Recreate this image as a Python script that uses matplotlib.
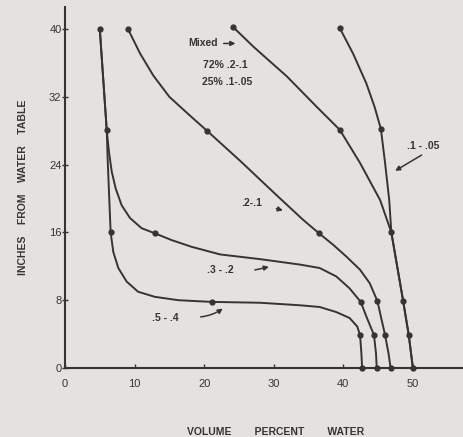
#!/usr/bin/python

'''
	Moisture profiles above the water table for several sand grades.
'''

import matplotlib
matplotlib.use('Agg')
import matplotlib.pyplot as plt

# traced curve paths (volume percent water, inches from water table)
x54 = [5.0, 6.0, 6.13, 6.32, 6.56, 6.94, 7.66, 8.86, 10.5, 12.9, 16.3, 21.1,
	28.0, 33.8, 36.6, 39.0, 40.9, 42.0, 42.4, 42.6, 42.7]
y54 = [40, 28.1, 24.7, 20.8, 16.0, 13.7, 11.8, 10.2, 9.0, 8.4, 8.0, 7.8,
	7.7, 7.4, 7.2, 6.6, 5.9, 4.9, 3.9, 1.7, 0]
x32 = [5.0, 5.99, 6.32, 6.71, 7.28, 8.14, 9.34, 11.0, 12.9, 15.3, 18.2, 22.3,
	28.0, 33.8, 36.6, 39.0, 40.9, 42.5, 43.3, 44.4, 44.7, 44.8]
y32 = [40, 28.1, 25.5, 23.2, 21.2, 19.2, 17.7, 16.5, 15.9, 15.1, 14.3, 13.4,
	12.85, 12.2, 11.8, 10.8, 9.4, 7.8, 6.1, 3.9, 1.7, 0]
x21 = [9.05, 10.8, 12.7, 15.0, 17.8, 20.4, 25.1, 30.4, 34.2, 36.5, 38.6, 40.5,
	42.4, 43.8, 44.9, 45.5, 46.0, 46.5, 46.8]
y21 = [40, 37.1, 34.5, 32.0, 29.9, 28.0, 24.5, 20.4, 17.5, 15.9, 14.5, 13.1,
	11.6, 10.0, 7.9, 5.7, 3.9, 1.7, 0]
xmix = [24.2, 27.1, 31.9, 36.2, 39.5, 42.4, 45.3, 46.9, 48.6, 49.4, 50.0]
ymix = [40.2, 37.9, 34.4, 30.8, 28.1, 24.2, 19.8, 16.0, 7.9, 3.9, 0]
x105 = [39.5, 41.4, 43.3, 44.5, 45.4, 46.0, 46.6, 46.9, 48.6, 49.4, 50.0]
y105 = [40.1, 37.1, 33.6, 30.8, 28.2, 24.2, 19.8, 16.0, 7.9, 3.9, 0]

# measured points (dots)
mx54 = [5.0, 6.0, 6.56, 21.1, 42.4, 42.7]
my54 = [40, 28.1, 16, 7.8, 3.9, 0]
mx32 = [12.9, 42.5, 44.4, 44.8]
my32 = [15.9, 7.8, 3.9, 0]
mx21 = [9.05, 20.4, 36.5, 44.9, 46.0, 46.8]
my21 = [40, 28.0, 15.9, 7.9, 3.9, 0]
mxmix = [24.2, 39.5, 46.9, 48.6, 49.4, 50.0]
mymix = [40.2, 28.1, 16.0, 7.9, 3.9, 0]
mx105 = [39.5, 45.4]
my105 = [40.1, 28.2]

xticks = [0, 10, 20, 30, 40, 50]
yticks = [0, 8, 16, 24, 32, 40]

INK = '#353432'
BG = '#e3e2de'


def plotData():
	fig = plt.figure(figsize=(4.63, 4.37), dpi=100, facecolor=BG)
	ax = fig.add_axes([65 / 463, 69 / 437, 398 / 463, 361 / 437], facecolor=BG)

	for xs, ys in [(x54, y54), (x32, y32), (x21, y21), (xmix, ymix), (x105, y105)]:
		ax.plot(xs, ys, color=INK, lw=1.4, solid_capstyle='round',
			solid_joinstyle='round')
	for xs, ys in [(mx54, my54), (mx32, my32), (mx21, my21), (mxmix, mymix), (mx105, my105)]:
		ax.plot(xs, ys, 'o', color=INK, ms=3.5, clip_on=False)

	ax.set_xlim(0, 57.2)
	ax.set_ylim(0, 42.6)
	ax.set_xticks(xticks)
	ax.set_yticks(yticks)
	for s in ['top', 'right']:
		ax.spines[s].set_visible(False)
	for s in ['left', 'bottom']:
		ax.spines[s].set_color(INK)
		ax.spines[s].set_linewidth(1.5)
	ax.tick_params(axis='x', direction='in', length=3, width=1, colors=INK,
		labelsize=8, pad=8)
	ax.tick_params(axis='y', direction='inout', length=5, width=1, colors=INK,
		labelsize=8, pad=0)

	ax.set_xlabel('VOLUME        PERCENT        WATER', fontsize=7.5,
		color=INK, labelpad=27, x=0.53, fontweight='bold')
	ax.set_ylabel('INCHES    FROM    WATER    TABLE', fontsize=7.5,
		color=INK, labelpad=15, fontweight='bold')

	tk = dict(fontsize=7.5, color=INK, fontweight='bold')
	arr = dict(arrowstyle='-|>', color=INK, lw=1.1, mutation_scale=7)
	ax.annotate('Mixed', xy=(24.9, 38.3), xytext=(22.0, 38.3), ha='right',
		va='center', arrowprops=arr, **tk)
	ax.text(19.9, 35.8, '72% .2-.1', ha='left', va='center', **tk)
	ax.text(19.7, 33.7, '25% .1-.05', ha='left', va='center', **tk)
	ax.text(51.5, 26.2, '.1 - .05', ha='center', va='center', **tk)
	ax.annotate('', xy=(47.1, 23.1), xytext=(51.6, 25.3), arrowprops=arr)
	ax.text(26.9, 19.5, '.2-.1', ha='center', va='center', **tk)
	ax.annotate('', xy=(31.7, 18.5), xytext=(30.0, 18.9), arrowprops=arr)
	ax.text(22.3, 11.6, '.3 - .2', ha='center', va='center', **tk)
	ax.annotate('', xy=(29.7, 12.0), xytext=(26.9, 11.5), arrowprops=arr)
	ax.text(14.4, 5.9, '.5 - .4', ha='center', va='center', **tk)
	ax.annotate('', xy=(23.0, 7.2), xytext=(19.1, 6.0),
		arrowprops=dict(arr, connectionstyle='arc3,rad=0.15'))

	fig.savefig('out.png', dpi=100, facecolor=BG)


def main():
	plt.rcParams['font.family'] = ['Liberation Sans', 'DejaVu Sans']
	plotData()


if __name__ == '__main__':
	main()
